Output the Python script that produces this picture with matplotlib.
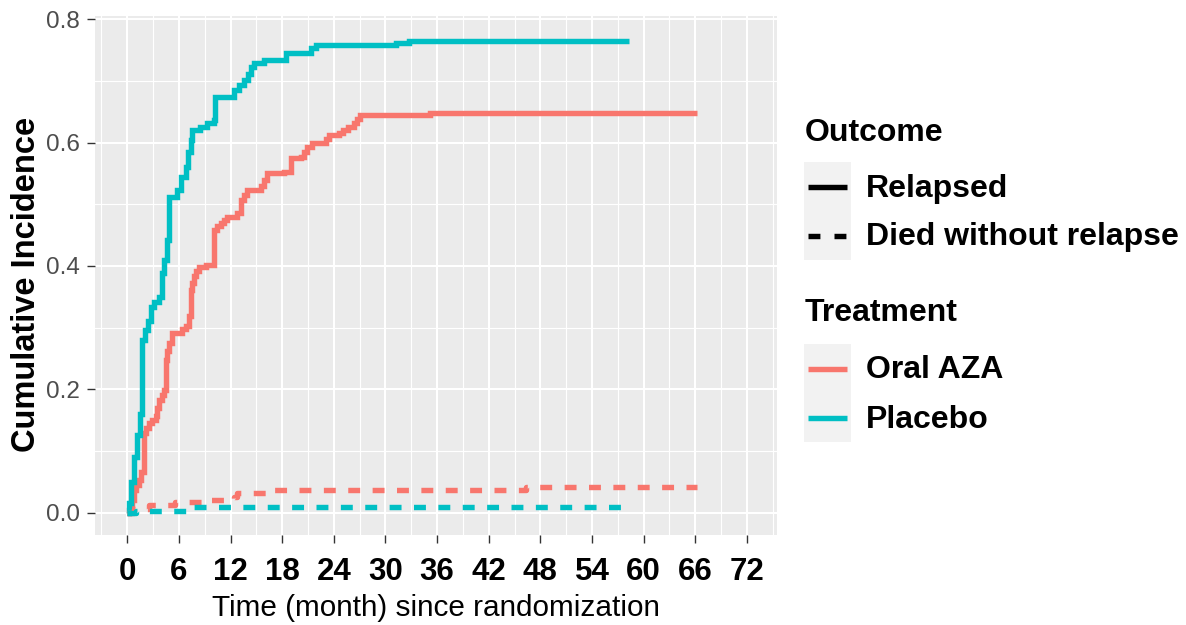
import matplotlib
matplotlib.use("Agg")
import matplotlib.pyplot as plt
from matplotlib.lines import Line2D
from matplotlib.patches import Rectangle

# ---------------- data ----------------
treatments = ["Oral AZA", "Placebo"]
outcomes = ["Relapsed", "Died without relapse"]
treat_colors = ["#F8766D", "#00BFC4"]

aza_relapse_t = [0, 0.2, 0.5, 0.77, 1.05, 1.35, 1.65, 1.93, 2.2, 2.51, 2.9, 3.29, 3.5, 3.68,
                 4.0, 4.26, 4.46, 4.65, 4.84, 5.23, 6.4, 6.78, 7.17, 7.36, 7.55, 7.75, 8.0,
                 8.33, 9.2, 10.07, 10.45, 10.85, 11.2, 11.63, 12.8, 13.18, 13.6, 13.96, 15.5,
                 15.9, 16.28, 18.2, 19.0, 20.16, 20.5, 20.9, 21.5, 23.07, 23.45, 24.6, 25.1,
                 25.6, 26.36, 26.7, 27.1, 35.2, 66.2]
aza_relapse_v = [0, 0.004, 0.02, 0.036, 0.045, 0.053, 0.065, 0.129, 0.137, 0.145, 0.15, 0.156,
                 0.17, 0.183, 0.19, 0.199, 0.248, 0.262, 0.275, 0.291, 0.297, 0.302, 0.318,
                 0.361, 0.372, 0.383, 0.392, 0.399, 0.402, 0.458, 0.464, 0.469, 0.475, 0.48,
                 0.485, 0.507, 0.515, 0.523, 0.529, 0.54, 0.55, 0.553, 0.575, 0.577, 0.585,
                 0.593, 0.599, 0.606, 0.612, 0.615, 0.62, 0.626, 0.631, 0.638, 0.645, 0.648,
                 0.648]

pbo_relapse_t = [0, 0.2, 0.45, 0.75, 1.1, 1.45, 1.75, 2.1, 2.4, 2.7, 3.1, 3.7, 4.07, 4.3,
                 4.57, 4.84, 5.8, 6.2, 6.8, 7.1, 7.36, 7.56, 8.5, 9.3, 10.07, 10.15, 12.4,
                 13.0, 13.56, 14.0, 14.4, 14.73, 15.9, 18.4, 21.3, 21.9, 31.2, 32.76, 58.35]
pbo_relapse_v = [0, 0.015, 0.05, 0.09, 0.125, 0.16, 0.28, 0.296, 0.31, 0.334, 0.342, 0.35,
                 0.388, 0.41, 0.442, 0.512, 0.523, 0.545, 0.561, 0.585, 0.604, 0.62, 0.626,
                 0.631, 0.637, 0.674, 0.685, 0.693, 0.701, 0.712, 0.722, 0.729, 0.734, 0.745,
                 0.753, 0.759, 0.762, 0.765, 0.765]

aza_death_t = [0, 0.8, 2.5, 5.6, 9.5, 12.4, 12.8, 17.05, 46.3, 66.2]
aza_death_v = [0, 0.006, 0.0125, 0.017, 0.021, 0.026, 0.031, 0.037, 0.041, 0.041]

pbo_death_t = [0, 1.0, 7.2, 58.35]
pbo_death_v = [0, 0.0032, 0.0097, 0.0097]

x_ticks = list(range(0, 73, 6))
x_minor = list(range(-3, 76, 6))
y_ticks = [0.0, 0.2, 0.4, 0.6, 0.8]
y_minor = [0.1, 0.3, 0.5, 0.7]
x_title = "Time (month) since randomization"
y_title = "Cumulative Incidence"

# ---------------- figure ----------------
W, H, DPI = 1186, 625, 100
plt.rcParams["font.family"] = ["Liberation Sans", "DejaVu Sans"]
fig = plt.figure(figsize=(W / DPI, H / DPI), dpi=DPI)
fig.patch.set_facecolor("white")


def fx(px):
    return px / W


def fy(py):
    return 1 - py / H


P_L, P_R, P_T, P_B = 95.0, 776.6, 16.0, 535.0
ax = fig.add_axes([fx(P_L), fy(P_B), (P_R - P_L) / W, (P_B - P_T) / H])
ax.set_facecolor("#EBEBEB")
for s in ax.spines.values():
    s.set_visible(False)

ax.set_xlim(-3.75, 75.45)
ax.set_ylim(-0.0364, 0.8053)
ax.set_xticks(x_ticks)
ax.set_xticks(x_minor, minor=True)
ax.set_yticks(y_ticks)
ax.set_yticks(y_minor, minor=True)
ax.set_xticklabels([str(v) for v in x_ticks])
ax.set_yticklabels([f"{v:.1f}" for v in y_ticks])
ax.grid(which="major", color="white", linewidth=1.5)
ax.grid(which="minor", color="white", linewidth=0.8)
ax.set_axisbelow(True)
ax.tick_params(axis="both", which="minor", length=0)
ax.tick_params(axis="both", which="major", direction="out", length=5.6, width=1.0,
               color="#333333")
ax.tick_params(axis="x", which="major", pad=10.2, labelsize=22.5, labelcolor="black")
ax.tick_params(axis="y", which="major", pad=5.5, labelsize=17.5, labelcolor="#4D4D4D")
for lab in ax.get_xticklabels():
    lab.set_fontweight("bold")

LW = 3.9
dash = (0, (2.2, 2.3))
series = [
    (aza_relapse_t, aza_relapse_v, treat_colors[0], "-"),
    (pbo_relapse_t, pbo_relapse_v, treat_colors[1], "-"),
    (aza_death_t, aza_death_v, treat_colors[0], dash),
    (pbo_death_t, pbo_death_v, treat_colors[1], dash),
]
for t, v, c, ls in series:
    ax.step(t, v, where="post", color=c, linewidth=LW, linestyle=ls,
            solid_capstyle="butt", dash_capstyle="butt", solid_joinstyle="miter")

# axis titles
fig.text(fx((P_L + P_R) / 2), fy(616), x_title, ha="center", va="baseline",
         fontsize=21.4, color="black")
fig.text(fx(27), fy((P_T + P_B) / 2 + 9), y_title, ha="center", va="center",
         rotation=90, fontsize=23.5, fontweight="bold", color="black")

# ---------------- legends (drawn manually, ggplot style) ----------------
def legend_block(title, title_y, box_top, labels, styles, colors):
    fig.text(fx(805), fy(title_y), title, ha="left", va="center", fontsize=23,
             fontweight="bold", color="black")
    key_h = 49.0
    fig.patches.append(Rectangle((fx(804), fy(box_top + key_h * len(labels))),
                                 47 / W, key_h * len(labels) / H,
                                 transform=fig.transFigure, facecolor="#F2F2F2",
                                 edgecolor="none"))
    for i, (lab, ls, col) in enumerate(zip(labels, styles, colors)):
        yc = box_top + key_h * (i + 0.5)
        fig.add_artist(Line2D([fx(808), fx(847)], [fy(yc), fy(yc)], color=col,
                              linewidth=LW, linestyle=ls, solid_capstyle="butt",
                              dash_capstyle="butt", transform=fig.transFigure))
        fig.text(fx(866), fy(yc + 2), lab, ha="left", va="center", fontsize=23,
                 fontweight="bold", color="black")


legend_block("Outcome", 133, 162, outcomes, ["-", (0, (2.2, 2.6))], ["black", "black"])
legend_block("Treatment", 313, 344, treatments, ["-", "-"], treat_colors)

fig.savefig("out.png", dpi=DPI, facecolor="white")
